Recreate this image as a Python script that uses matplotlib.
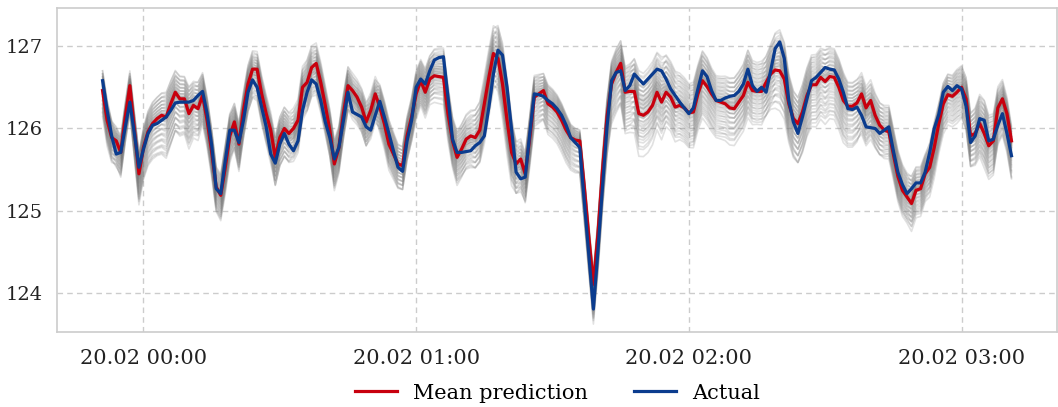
import numpy as np
import pandas as pd
import matplotlib
matplotlib.use("Agg")
import matplotlib.pyplot as plt
import matplotlib.dates as mdates

# one-minute timestamps
start_time = "2020-02-19 23:51"
n_points = 201

actual = [
    126.58, 126.22, 125.91, 125.69, 125.71, 126.02, 126.32, 125.94, 125.53, 125.75,
    125.94, 126.04, 126.06, 126.10, 126.14, 126.22, 126.31, 126.32, 126.32, 126.32,
    126.34, 126.40, 126.45, 126.18, 125.80, 125.27, 125.21, 125.61, 125.98, 125.98,
    125.83, 126.10, 126.44, 126.59, 126.50, 126.26, 126.02, 125.69, 125.58, 125.81,
    125.94, 125.81, 125.73, 125.85, 126.22, 126.44, 126.59, 126.54, 126.34, 126.08,
    125.89, 125.63, 125.77, 126.10, 126.44, 126.20, 126.17, 126.14, 126.02, 125.98,
    126.16, 126.33, 126.14, 125.94, 125.73, 125.53, 125.48, 125.85, 126.10, 126.50,
    126.60, 126.54, 126.70, 126.83, 126.86, 126.87, 126.38, 125.87, 125.71, 125.71,
    125.72, 125.73, 125.79, 125.83, 125.91, 126.26, 126.66, 126.95, 126.89, 126.50,
    125.98, 125.47, 125.39, 125.41, 125.94, 126.42, 126.41, 126.39, 126.34, 126.30,
    126.24, 126.16, 126.04, 125.89, 125.83, 125.77, 125.12, 124.48, 123.81, 124.52,
    125.29, 126.02, 126.58, 126.68, 126.70, 126.46, 126.52, 126.66, 126.60, 126.54,
    126.60, 126.66, 126.72, 126.70, 126.60, 126.48, 126.40, 126.32, 126.25, 126.18,
    126.25, 126.48, 126.70, 126.63, 126.46, 126.34, 126.34, 126.37, 126.39, 126.40,
    126.45, 126.54, 126.72, 126.52, 126.45, 126.50, 126.44, 126.70, 126.97, 127.05,
    126.85, 126.34, 126.08, 125.94, 126.14, 126.36, 126.58, 126.62, 126.68, 126.74,
    126.72, 126.71, 126.60, 126.44, 126.24, 126.23, 126.26, 126.16, 126.02, 126.01,
    126.00, 125.94, 125.98, 126.02, 125.73, 125.47, 125.32, 125.21, 125.27, 125.34,
    125.34, 125.47, 125.71, 126.00, 126.17, 126.44, 126.51, 126.46, 126.52, 126.48,
    126.27, 125.83, 125.91, 126.12, 126.10, 125.85, 125.87, 126.04, 126.18, 125.94,
    125.67,
]

mean_prediction = [
    126.46, 126.10, 125.89, 125.85, 125.71, 126.14, 126.52, 125.98, 125.45, 125.77,
    125.96, 126.06, 126.12, 126.16, 126.14, 126.30, 126.44, 126.36, 126.36, 126.18,
    126.28, 126.24, 126.40, 126.10, 125.72, 125.29, 125.19, 125.53, 125.91, 126.08,
    125.81, 126.22, 126.54, 126.72, 126.72, 126.42, 126.18, 125.98, 125.65, 125.89,
    126.00, 125.94, 126.00, 126.10, 126.50, 126.56, 126.74, 126.79, 126.56, 126.28,
    125.98, 125.57, 125.77, 126.18, 126.52, 126.46, 126.38, 126.26, 126.08, 126.22,
    126.42, 126.26, 126.06, 125.81, 125.69, 125.57, 125.55, 125.91, 126.14, 126.42,
    126.58, 126.44, 126.60, 126.64, 126.63, 126.62, 126.18, 125.85, 125.65, 125.75,
    125.87, 125.91, 125.89, 125.98, 126.30, 126.62, 126.91, 126.85, 126.54, 126.10,
    125.71, 125.57, 125.63, 125.45, 125.89, 126.38, 126.42, 126.46, 126.30, 126.26,
    126.20, 126.10, 125.98, 125.89, 125.86, 125.85, 125.29, 124.68, 124.11, 124.72,
    125.49, 126.14, 126.54, 126.68, 126.79, 126.44, 126.45, 126.45, 126.18, 126.16,
    126.20, 126.28, 126.44, 126.32, 126.44, 126.38, 126.26, 126.28, 126.25, 126.19,
    126.20, 126.42, 126.58, 126.51, 126.42, 126.34, 126.32, 126.30, 126.25, 126.24,
    126.32, 126.40, 126.56, 126.46, 126.45, 126.45, 126.56, 126.66, 126.71, 126.70,
    126.60, 126.30, 126.12, 126.06, 126.20, 126.40, 126.53, 126.53, 126.62, 126.57,
    126.63, 126.62, 126.50, 126.34, 126.27, 126.27, 126.31, 126.42, 126.25, 126.34,
    126.16, 126.04, 125.98, 125.96, 125.69, 125.42, 125.25, 125.17, 125.09, 125.25,
    125.27, 125.45, 125.53, 125.77, 126.06, 126.30, 126.41, 126.39, 126.44, 126.50,
    126.36, 125.91, 125.94, 126.06, 125.94, 125.79, 125.85, 126.25, 126.36, 126.18,
    125.85,
]

# spread of the sampled predictions around the mean, per 10-minute block
spread_upper = [0.20, 0.30, 0.25, 0.25, 0.30, 0.25, 0.25, 0.25, 0.40, 0.25, 0.15,
                0.30, 0.40, 0.30, 0.35, 0.35, 0.30, 0.30, 0.20, 0.35, 0.10]
spread_lower = [0.30, 0.50, 0.30, 0.35, 0.35, 0.30, 0.30, 0.30, 0.40, 0.35, 0.40,
                0.50, 0.40, 0.45, 0.40, 0.50, 0.50, 0.30, 0.35, 0.40, 0.50]
block_len = 10
n_samples = 50

plt.rcParams["font.family"] = ["DejaVu Serif"]

times = pd.date_range(start_time, periods=n_points, freq="min")
mean_arr = np.asarray(mean_prediction)
act_arr = np.asarray(actual)


def block_profile(values):
    """Expand per-block spreads to every minute and soften the block edges."""
    prof = np.repeat(values, block_len)[:n_points]
    win = 9
    padded = np.pad(prof, win // 2, mode="edge")
    return np.convolve(padded, np.ones(win) / win, mode="valid")


up = block_profile(spread_upper)
lo = block_profile(spread_lower)

fig = plt.figure(figsize=(10.58, 4.07), dpi=100)
ax = fig.add_axes([0.054, 0.184, 0.945, 0.796])

# ensemble of sampled predictions drawn as faint grey paths
u = np.linspace(-1, 1, n_samples)
levels = np.sign(u) * np.abs(u) ** 1.5
mix = np.linspace(-0.2, 0.9, n_samples)[(np.arange(n_samples) * 17) % n_samples]
for k, w in zip(levels, mix):
    path = mean_arr + np.where(k > 0, k * up, k * lo) + w * (act_arr - mean_arr) * 0.6
    ax.plot(times, path, color="#777777", alpha=0.22, lw=1.2, zorder=1)

ax.plot(times, mean_prediction, color="#c8000e", lw=2.3, label="Mean prediction", zorder=3)
ax.plot(times, actual, color="#0b3c8e", lw=2.3, label="Actual", zorder=4)

ax.set_ylim(123.53, 127.46)
ax.set_yticks([124, 125, 126, 127])
ax.xaxis.set_major_locator(mdates.HourLocator())
ax.xaxis.set_major_formatter(mdates.DateFormatter("%d.%m %H:%M"))
ax.margins(x=0.05)

ax.grid(True, color="#cccccc", linestyle=(0, (4, 3)), lw=1.0)
ax.set_axisbelow(True)
for side in ["left", "bottom", "top", "right"]:
    ax.spines[side].set_color("#cccccc")
    ax.spines[side].set_linewidth(1.2)
ax.tick_params(axis="x", length=0, labelsize=15, colors="#222222", pad=12)
ax.tick_params(axis="y", length=0, labelsize=14, colors="#222222", pad=10)

fig.legend(loc="center", bbox_to_anchor=(0.527, 0.034), ncol=2, frameon=False,
           fontsize=15, handlelength=2.0, columnspacing=2.2, handletextpad=0.8)

fig.savefig("out.png", dpi=100)
